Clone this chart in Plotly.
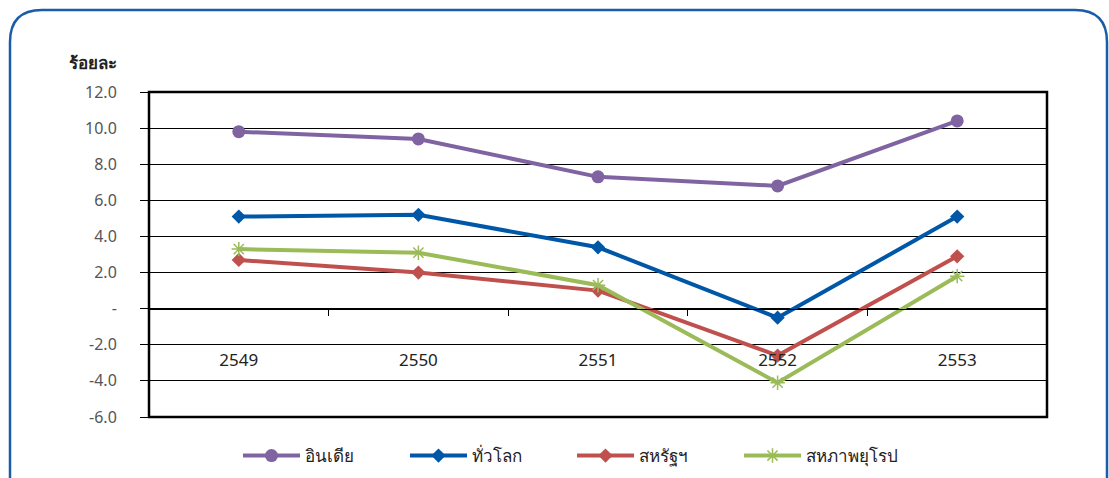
import plotly.graph_objects as go

years = ["2549", "2550", "2551", "2552", "2553"]
india = [9.8, 9.4, 7.3, 6.8, 10.4]
world = [5.1, 5.2, 3.4, -0.5, 5.1]
usa = [2.7, 2.0, 1.0, -2.6, 2.9]
eu = [3.3, 3.1, 1.3, -4.1, 1.8]

y_ticks = [12, 10, 8, 6, 4, 2, 0, -2, -4, -6]
y_tick_text = ["12.0", "10.0", "8.0", "6.0", "4.0", "2.0", "-", "-2.0", "-4.0", "-6.0"]

W, H = 1109, 478
L, R, T, B = 149, 1047, 92, 417

fig = go.Figure()
series = [
    ("อินเดีย", india, "#8064A2", dict(symbol="circle", size=13)),
    ("ทั่วโลก", world, "#0057A8", dict(symbol="diamond", size=11)),
    ("สหรัฐฯ", usa, "#C0504D", dict(symbol="diamond", size=11)),
    ("สหภาพยุโรป", eu, "#9BBB59", dict(symbol="asterisk-open", size=12, line=dict(width=1.5, color="#9BBB59"))),
]
for name, vals, col, mk in series:
    fig.add_trace(go.Scatter(x=years, y=vals, name=name, mode="lines+markers",
                             line=dict(color=col, width=4), marker=dict(color=col, **mk)))

def px(x):
    return (x - L) / (R - L)

def py(y):
    return (B - y) / (B - T)

# rounded frame
x0, x1, y0, y1, r = 10, 1107, 10, 520, 32
path = (f"M {px(x0)},{py(y1)} L {px(x0)},{py(y0 + r)} Q {px(x0)},{py(y0)} {px(x0 + r)},{py(y0)} "
        f"L {px(x1 - r)},{py(y0)} Q {px(x1)},{py(y0)} {px(x1)},{py(y0 + r)} L {px(x1)},{py(y1)}")
fig.add_shape(type="path", path=path, xref="paper", yref="paper",
              line=dict(color="#1A5CA8", width=2.5), layer="below")

# plot area border
fig.add_shape(type="rect", x0=0, x1=1, y0=0, y1=1, xref="paper", yref="paper",
              line=dict(color="black", width=2.5), layer="above")

fig.add_annotation(text="<b>ร้อยละ</b>", x=px(93), y=py(62), xref="paper", yref="paper",
                   showarrow=False, font=dict(size=17, color="#222"), xanchor="center", yanchor="middle")

fig.update_layout(
    width=W, height=H,
    margin=dict(l=L, r=W - R, t=T, b=H - B, autoexpand=False),
    paper_bgcolor="white", plot_bgcolor="white",
    showlegend=True,
    legend=dict(orientation="h", x=px(238), y=py(456), xanchor="left", yanchor="middle",
                font=dict(size=17, color="#222"), itemwidth=57, tracegroupgap=0,
                entrywidth=95, entrywidthmode="pixels"),
    font=dict(family="Noto Sans, DejaVu Sans, sans-serif"),
    xaxis=dict(
        type="category", range=[-0.5, 4.5], anchor="free", position=py(309),
        showline=True, linecolor="black", linewidth=1,
        ticks="outside", ticklen=6, tickcolor="black", tickson="boundaries",
        ticklabelstandoff=36, tickfont=dict(size=17, color="#222"),
        showgrid=False, zeroline=False,
    ),
    yaxis=dict(
        range=[-6, 12], tickvals=y_ticks, ticktext=y_tick_text,
        showgrid=True, gridcolor="black", gridwidth=1,
        showline=False,
        ticks="outside", ticklen=8, tickcolor="black",
        ticklabelstandoff=20,
        tickfont=dict(size=16, color="#555"), zeroline=False,
    ),
)
fig.write_html("out.html")
